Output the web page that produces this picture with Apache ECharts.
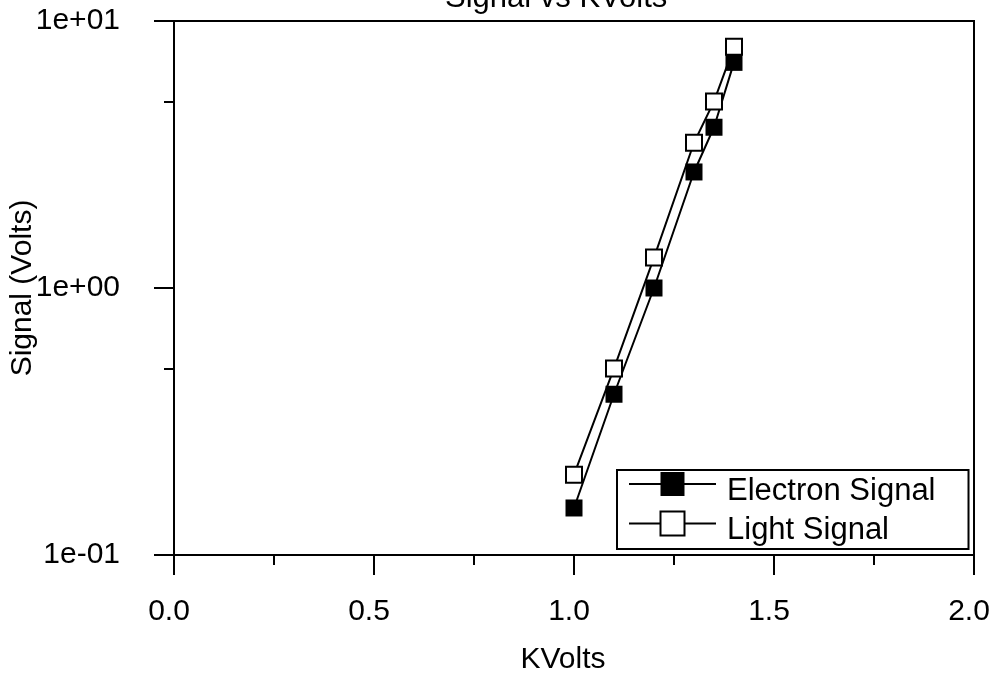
<!DOCTYPE html>
<html>
<head>
<meta charset="utf-8">
<script src="https://cdn.jsdelivr.net/npm/echarts@6/dist/echarts.min.js"></script>
<style>html,body{margin:0;padding:0;background:#fff}#c{width:995px;height:675px}</style>
</head>
<body>
<div id="c"></div>
<script>
const kvolts = [1.0, 1.1, 1.2, 1.3, 1.35, 1.4];
const electronSignal = [0.15, 0.40, 1.0, 2.72, 4.0, 7.0];
const lightSignal = [0.20, 0.50, 1.3, 3.5, 5.0, 8.0];
const yMinorTicks = [0.5, 5];
const seriesNames = ['Electron Signal', 'Light Signal'];

const FONT = 'Liberation Sans';
const FS = 30;
function expFmt(v) {
  const e = Math.round(Math.log10(v));
  return '1e' + (e < 0 ? '-' : '+') + String(Math.abs(e)).padStart(2, '0');
}
const chart = echarts.init(document.getElementById('c'));
chart.setOption({
  backgroundColor: '#fff',
  animation: false,
  title: {
    text: 'Signal vs KVolts', left: 440, top: -22,
    textStyle: { fontFamily: FONT, fontSize: 31, fontWeight: 'normal', color: '#000' }
  },
  grid: { left: 174, right: 21, top: 21, bottom: 120, show: true, borderColor: '#000', borderWidth: 2,
          containLabel: false, outerBoundsMode: 'none' },
  legend: {
    orient: 'vertical', left: 617, top: 470,
    backgroundColor: '#fff',
    borderColor: '#000', borderWidth: 2, borderRadius: 0,
    padding: [2, 33, 3, 11],
    itemWidth: 87, itemHeight: 30, itemGap: 4,
    lineStyle: { width: 2, color: '#000' },
    formatter: name => '{t|' + name + '}',
    textStyle: { fontFamily: FONT, fontSize: 31, color: '#000',
      rich: { t: { fontFamily: FONT, fontSize: 31, color: '#000', padding: [14, 0, 0, 6] } } },
    data: seriesNames
  },
  xAxis: {
    type: 'value', min: 0, max: 2, interval: 0.5,
    name: 'KVolts', nameLocation: 'middle', nameGap: 90,
    nameTextStyle: { fontFamily: FONT, fontSize: FS, color: '#000', padding: [0, 22, 0, 0] },
    axisLine: { show: true, lineStyle: { color: '#000', width: 2 } },
    axisTick: { show: true, inside: false, length: 20, lineStyle: { color: '#000', width: 2 } },
    minorTick: { show: true, splitNumber: 2, length: 10, lineStyle: { color: '#000', width: 2 } },
    axisLabel: { fontFamily: FONT, fontSize: FS, color: '#000', margin: 42, padding: [0, 10, 0, 0], formatter: v => v.toFixed(1) },
    splitLine: { show: false }
  },
  yAxis: [{
    type: 'log', logBase: 10, min: 0.1, max: 10,
    name: 'Signal (Volts)', nameLocation: 'middle', nameGap: 136, nameMoveOverlap: false,
    nameTextStyle: { fontFamily: FONT, fontSize: FS, color: '#000' },
    axisLine: { show: true, lineStyle: { color: '#000', width: 2 } },
    axisTick: { show: true, length: 20, lineStyle: { color: '#000', width: 2 } },
    axisLabel: { fontFamily: FONT, fontSize: FS, color: '#000', margin: 54, formatter: expFmt },
    splitLine: { show: false }
  }, {
    type: 'log', logBase: 10, min: 0.1, max: 10, position: 'left',
    axisLine: { show: false },
    axisTick: { show: true, length: 10, customValues: yMinorTicks, lineStyle: { color: '#000', width: 2 } },
    axisLabel: { show: false },
    splitLine: { show: false }
  }],
  series: [{
    name: seriesNames[0], type: 'line',
    data: kvolts.map((x, i) => [x, electronSignal[i]]),
    symbol: 'rect', symbolSize: 17, showAllSymbol: true,
    lineStyle: { color: '#000', width: 2 },
    itemStyle: { color: '#000', borderColor: '#000', borderWidth: 0 }
  }, {
    name: seriesNames[1], type: 'line',
    data: kvolts.map((x, i) => [x, lightSignal[i]]),
    symbol: 'rect', symbolSize: 16, showAllSymbol: true,
    lineStyle: { color: '#000', width: 2 },
    itemStyle: { color: '#fff', borderColor: '#000', borderWidth: 2 }
  }]
});
</script>
</body>
</html>
